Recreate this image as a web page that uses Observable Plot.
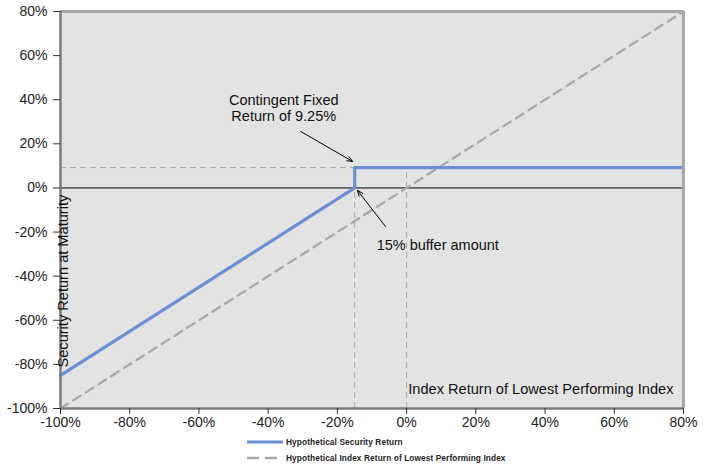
<!DOCTYPE html>
<html>
<head>
<meta charset="utf-8">
<script src="https://cdn.jsdelivr.net/npm/d3@7"></script>
<script src="https://cdn.jsdelivr.net/npm/@observablehq/plot@0.6"></script>
<style>
  body { margin: 0; background: #fff; font-family: "Liberation Sans", Arial, sans-serif; }
  #legend { position: relative; height: 34px; }
  .item { position: absolute; left: 247px; display: flex; align-items: center; font-size: 8.3px; color: #222; font-weight: bold; letter-spacing: 0.1px; }
  .item svg { margin-right: 3px; }
</style>
</head>
<body>
<div id="chart"></div>
<div id="legend"></div>
<script>
// ---- data ----
const tickValues = [-100, -80, -60, -40, -20, 0, 20, 40, 60, 80];
const securityX = [-100, -15, -15, 80];
const securityY = [-85, 0, 9.25, 9.25];
const indexX = [-100, 80];
const indexY = [-100, 80];
const fixedReturn = 9.25;
const bufferLevel = -15;
const seriesNames = ["Hypothetical Security Return", "Hypothetical Index Return of Lowest Performing Index"];
const xTitle = "Index Return of Lowest Performing Index";
const yTitle = "Security Return at Maturity";
const noteLabels = ["Contingent Fixed\nReturn of 9.25%", "15% buffer amount"];
const noteX = [-35.5, 9];
const noteY = [36.3, -26];
const arrowFromX = [-30.6, -6.1];
const arrowFromY = [25.6, -17.5];
const arrowToX = [-15.6, -14.2];
const arrowToY = [12, -1.1];

const blue = "#6a8fd2";
const gray = "#a6a6a6";

const security = securityX.map((x, i) => ({x, y: securityY[i]}));
const index = indexX.map((x, i) => ({x, y: indexY[i]}));
const notes = noteLabels.map((t, i) => ({t, x: noteX[i], y: noteY[i]}));
const arrows = arrowFromX.map((x1, i) => ({x1, y1: arrowFromY[i], x2: arrowToX[i], y2: arrowToY[i]}));
const refH = [{y: fixedReturn, x1: -100, x2: bufferLevel}];
const refV = [{x: bufferLevel, y1: -100, y2: fixedReturn}, {x: 0, y1: -100, y2: fixedReturn}];
const pct = d => d + "%";

const chart = Plot.plot({
  width: 704,
  height: 434,
  marginTop: 11,
  marginBottom: 26,
  marginLeft: 60,
  marginRight: 21,
  style: {fontFamily: "'Liberation Sans', Arial, sans-serif", fontSize: "14px", color: "#222", background: "#fff"},
  x: {domain: [-100, 80], ticks: tickValues, tickFormat: pct, label: null},
  y: {domain: [-100, 80], ticks: tickValues, tickFormat: pct, label: null},
  marks: [
    Plot.frame({fill: "#e3e3e3", stroke: "none"}),
    Plot.ruleY(refH, {y: "y", x1: "x1", x2: "x2", stroke: gray, strokeWidth: 1, strokeDasharray: "6,4"}),
    Plot.ruleX(refV, {x: "x", y1: "y1", y2: "y2", stroke: gray, strokeWidth: 1, strokeDasharray: "6,4"}),
    Plot.ruleY([0], {stroke: "#000", strokeWidth: 1}),
    Plot.line(index, {x: "x", y: "y", stroke: gray, strokeWidth: 2.2, strokeDasharray: "9,6"}),
    Plot.line(security, {x: "x", y: "y", stroke: blue, strokeWidth: 3.2}),
    Plot.ruleY([80], {stroke: "#a8a8a8", strokeWidth: 3}),
    Plot.ruleX([80], {stroke: "#a8a8a8", strokeWidth: 3}),
    Plot.ruleX([-100], {stroke: "#7a7a7a", strokeWidth: 2.5}),
    Plot.ruleY([-100], {stroke: "#7a7a7a", strokeWidth: 2.5}),
    Plot.axisX({ticks: tickValues, tickFormat: pct, tickSize: 6, tickPadding: 3, stroke: "#333", fontSize: 14}),
    Plot.axisY({ticks: tickValues, tickFormat: pct, tickSize: 7, tickPadding: 6, stroke: "#333", fontSize: 14}),
    Plot.arrow(arrows, {x1: "x1", y1: "y1", x2: "x2", y2: "y2", stroke: "#000", strokeWidth: 1, headLength: 9, headAngle: 45}),
    Plot.text(notes, {x: "x", y: "y", text: "t", fontSize: 14.5, lineHeight: 1.12, fill: "#111"}),
    Plot.text([xTitle], {frameAnchor: "bottom-right", dx: -10, dy: -15, fontSize: 14.6, fill: "#111", textAnchor: "end"}),
    Plot.text([yTitle], {frameAnchor: "bottom-left", dx: 7, dy: -41, rotate: -90, fontSize: 14.6, fill: "#111", textAnchor: "start"})
  ]
});
document.getElementById("chart").appendChild(chart);

// legend
const legend = document.getElementById("legend");
const styles = [{stroke: blue, dash: null, width: 3}, {stroke: gray, dash: "12,6", width: 2.5}];
seriesNames.forEach((name, i) => {
  const div = document.createElement("div");
  div.className = "item";
  div.style.top = (3 + i * 16) + "px";
  const s = styles[i];
  div.innerHTML = `<svg width="36" height="8"><line x1="0" x2="36" y1="4" y2="4" stroke="${s.stroke}" stroke-width="${s.width}" ${s.dash ? `stroke-dasharray="${s.dash}"` : ""}/></svg><span>${name}</span>`;
  legend.appendChild(div);
});
</script>
</body>
</html>
